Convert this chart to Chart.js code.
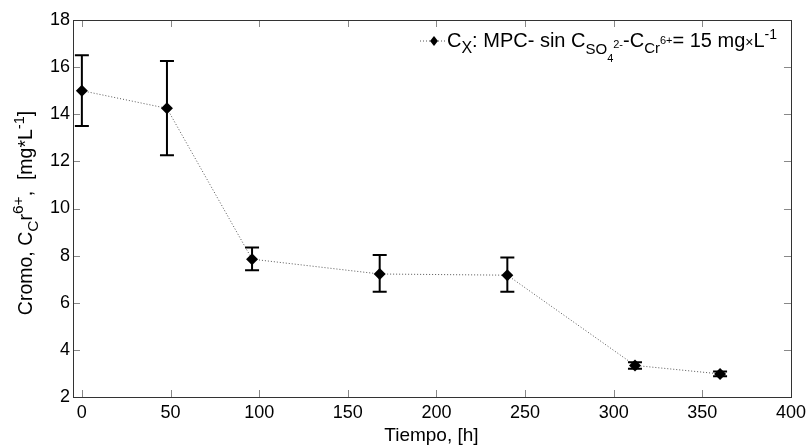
<!DOCTYPE html>
<html>
<head>
<meta charset="utf-8">
<script src="https://cdn.jsdelivr.net/npm/chart.js@4.4.1/dist/chart.umd.min.js"></script>
<style>
  html, body { margin: 0; padding: 0; background: #fff; }
  #wrap { width: 811px; height: 446px; }
</style>
</head>
<body>
<div id="wrap"><canvas id="myChart" width="811" height="446"></canvas></div>
<script>
// datos
const tiempo = [0, 48, 96, 168, 240, 312, 360];
const cromo = [15.0, 14.25, 7.85, 7.22, 7.17, 3.34, 2.98];
const errInf = [13.5, 12.26, 7.38, 6.47, 6.47, 3.2, 2.88];
const errSup = [16.5, 16.26, 8.34, 8.03, 7.92, 3.48, 3.08];
const xTicks = [0, 50, 100, 150, 200, 250, 300, 350, 400];
const yTicks = [2, 4, 6, 8, 10, 12, 14, 16, 18];

const FONT = 'Arial, "Liberation Sans", sans-serif';

// escribe texto con sub/superindices: [texto, desplazamiento y, tamano]
function richText(ctx, parts, x, y) {
  let cx = x;
  for (const p of parts) {
    ctx.font = p[2] + 'px ' + FONT;
    ctx.fillText(p[0], cx, y + p[1]);
    cx += ctx.measureText(p[0]).width;
  }
  return cx - x;
}
function richWidth(ctx, parts) {
  let w = 0;
  for (const p of parts) {
    ctx.font = p[2] + 'px ' + FONT;
    w += ctx.measureText(p[0]).width;
  }
  return w;
}

const legendParts = [
  ['C', 0, 20], ['X', 6, 16], [': MPC- sin C', 0, 20], ['SO', 7, 15], ['4', 15, 11],
  ['2-', 1, 11], ['-C', 0, 20], ['Cr', 6, 15], ['6+', -3, 11], ['= 15 mg', 0, 20],
  ['\u00d7', 0, 14], ['L', 0, 20], ['-1', -8, 14]
];
const yTitleParts = [
  ['Cromo, C', 0, 19.5], ['C', 6, 15.5], ['r', 0, 19.5], ['6+', -9, 15.5],
  [',  [mg*L', 0, 19.5], ['-1', -8, 14.5], [']', 0, 19.5]
];

const errorBars = {
  id: 'errorBars',
  afterDatasetsDraw(chart) {
    const ctx = chart.ctx, xs = chart.scales.x, ys = chart.scales.y;
    ctx.save();
    ctx.strokeStyle = '#000';
    ctx.lineWidth = 2;
    for (let i = 0; i < tiempo.length; i++) {
      const px = xs.getPixelForValue(tiempo[i]);
      const y1 = ys.getPixelForValue(errInf[i]);
      const y2 = ys.getPixelForValue(errSup[i]);
      ctx.beginPath();
      ctx.moveTo(px, y1); ctx.lineTo(px, y2);
      ctx.moveTo(px - 7, y1); ctx.lineTo(px + 7, y1);
      ctx.moveTo(px - 7, y2); ctx.lineTo(px + 7, y2);
      ctx.stroke();
    }
    ctx.restore();
  }
};

const frame = {
  id: 'frame',
  afterDraw(chart) {
    const ctx = chart.ctx, a = chart.chartArea, xs = chart.scales.x, ys = chart.scales.y;
    ctx.save();
    // marcas hacia adentro
    ctx.strokeStyle = '#888';
    ctx.lineWidth = 1;
    ctx.beginPath();
    for (const v of xTicks) {
      const px = Math.round(xs.getPixelForValue(v)) + 0.5;
      ctx.moveTo(px, a.bottom); ctx.lineTo(px, a.bottom - 7);
      ctx.moveTo(px, a.top); ctx.lineTo(px, a.top + 7);
    }
    for (const v of yTicks) {
      const py = Math.round(ys.getPixelForValue(v)) + 0.5;
      ctx.moveTo(a.left, py); ctx.lineTo(a.left + 7, py);
      ctx.moveTo(a.right, py); ctx.lineTo(a.right - 7, py);
    }
    ctx.stroke();
    // caja
    ctx.strokeStyle = '#333';
    ctx.strokeRect(Math.round(a.left) + 0.5, Math.round(a.top) + 0.5,
      Math.round(a.right - a.left), Math.round(a.bottom - a.top));

    // titulo eje x
    ctx.fillStyle = '#000';
    ctx.textBaseline = 'alphabetic';
    ctx.font = '19px ' + FONT;
    ctx.textAlign = 'center';
    ctx.fillText('Tiempo, [h]', xs.getPixelForValue(200) - 5, 441);
    ctx.textAlign = 'left';

    // titulo eje y
    ctx.save();
    ctx.translate(32, 213);
    ctx.rotate(-Math.PI / 2);
    const wy = richWidth(ctx, yTitleParts);
    richText(ctx, yTitleParts, -wy / 2, 0);
    ctx.restore();

    // leyenda
    const lx = 420, ly = 47;
    ctx.strokeStyle = '#555';
    ctx.setLineDash([1, 2]);
    ctx.beginPath();
    ctx.moveTo(lx, ly - 6); ctx.lineTo(lx + 26, ly - 6);
    ctx.stroke();
    ctx.setLineDash([]);
    ctx.fillStyle = '#000';
    ctx.beginPath();
    ctx.moveTo(lx + 14, ly - 11); ctx.lineTo(lx + 18, ly - 6);
    ctx.lineTo(lx + 14, ly - 1); ctx.lineTo(lx + 10, ly - 6);
    ctx.closePath(); ctx.fill();
    richText(ctx, legendParts, lx + 27, ly);
    ctx.restore();
  }
};

const ctx = document.getElementById('myChart').getContext('2d');
const myChart = new Chart(ctx, {
  type: 'scatter',
  data: {
    datasets: [{
      label: 'Cx',
      data: tiempo.map((t, i) => ({ x: t, y: cromo[i] })),
      showLine: true,
      borderColor: '#555',
      borderWidth: 1,
      borderDash: [1, 2],
      pointStyle: 'rectRot',
      pointRadius: 6,
      pointBackgroundColor: '#000',
      pointBorderColor: '#000',
      pointBorderWidth: 0,
      clip: false
    }]
  },
  options: {
    responsive: false,
    animation: false,
    layout: { padding: { left: 0, right: 18, top: 20, bottom: 0 } },
    plugins: { legend: { display: false }, tooltip: { enabled: false } },
    scales: {
      x: {
        type: 'linear', min: -5, max: 400,
        afterBuildTicks(s) { s.ticks = xTicks.map(v => ({ value: v })); },
        afterFit(s) { s.height = 49; },
        grid: { display: false, drawTicks: false },
        border: { display: false },
        ticks: { color: '#000', padding: 5, font: { size: 18, family: FONT } }
      },
      y: {
        type: 'linear', min: 2, max: 18,
        afterBuildTicks(s) { s.ticks = yTicks.map(v => ({ value: v })); },
        afterFit(s) { s.width = 73; },
        grid: { display: false, drawTicks: false },
        border: { display: false },
        ticks: { color: '#000', padding: 3, font: { size: 18, family: FONT } }
      }
    }
  },
  plugins: [errorBars, frame]
});
</script>
</body>
</html>
